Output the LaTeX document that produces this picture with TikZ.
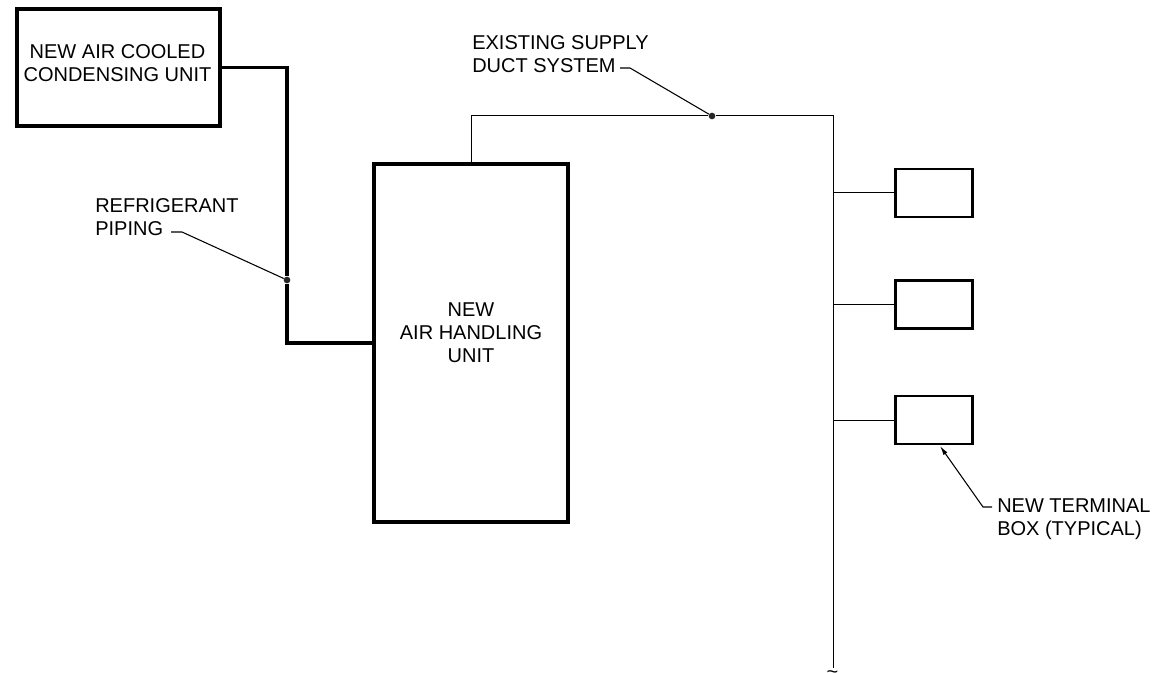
\documentclass[tikz,border=0pt]{standalone}
\usepackage{fontspec}
\setmainfont{Liberation Sans}
\usepackage{tikz}
\usetikzlibrary{arrows.meta}

\tikzset{
  unitbox/.style={draw,line width=3pt,inner sep=0pt},
  tbox/.style={draw,line width=1.9pt,minimum width=58pt,minimum height=36pt,inner sep=0pt},
  pipe/.style={line width=2.3pt},
  duct/.style={line width=0.75pt},
  leader/.style={line width=0.8pt},
  joint/.style={circle,fill=black!85,inner sep=0pt,minimum size=5pt},
  txt/.style={align=left,font=\fontsize{15}{17.3}\selectfont,inner sep=0pt},
  ctxt/.style={txt,align=center}
}

\begin{document}
\begin{tikzpicture}[x=0.75pt,y=-0.75pt]
  \useasboundingbox (0,0) rectangle (1156,673);
  \node[unitbox,minimum width=152pt,minimum height=88pt] (cond) at (118.5,67.5) {};
  \node[unitbox,minimum width=145.5pt,minimum height=268.5pt] (ahu) at (471,343) {};
  \node[tbox] (tbox1) at (934,193) {};
  \node[tbox] (tbox2) at (934,304.5) {};
  \node[tbox] (tbox3) at (934,420) {};
  \node[ctxt] (condtxt) at (117.5,63) {NEW AIR COOLED\\CONDENSING UNIT};
  \node[ctxt] (ahutxt) at (471,332.5) {NEW\\AIR HANDLING\\UNIT};
  \node[txt,anchor=west] (pipetxt) at (95,217) {REFRIGERANT\\PIPING};
  \node[txt,anchor=west] (ducttxt) at (472,54) {EXISTING SUPPLY\\DUCT SYSTEM};
  \node[txt,anchor=west] (tboxtxt) at (997,519) {NEW TERMINAL\\BOX (TYPICAL)};

  \node[joint] (pipedot) at (287,280) {};
  \node[joint] (ductdot) at (712,116) {};
  \coordinate (ductend) at (833,668);
  \coordinate (tap1) at (833,193);
  \coordinate (tap2) at (833,304.5);
  \coordinate (tap3) at (833,420);
  \node[font=\fontsize{15}{17.3}\selectfont,inner sep=0pt] (tilde) at (832.5,675) {\textasciitilde};

  \draw[pipe] (cond.east) -| (pipedot) |- (ahu.west);
  \draw[duct] (ahu.north) |- (ductdot) -| (ductend);
  \draw[duct] (tap1) -- (tbox1.west);
  \draw[duct] (tap2) -- (tbox2.west);
  \draw[duct] (tap3) -- (tbox3.west);

  \coordinate (pipea) at (171,232);
  \coordinate (pipeb) at (182,232);
  \draw[leader] (pipea) -- (pipeb) -- (pipedot);
  \coordinate (ducta) at (620,68);
  \coordinate (ductb) at (630,68);
  \draw[leader] (ducta) -- (ductb) -- (ductdot);
  \coordinate (tboxa) at (992,507);
  \coordinate (tboxb) at (983,507);
  \coordinate (tboxc) at (940,446);
  \draw[leader,-{Latex[length=7pt,width=3.5pt]}] (tboxa) -- (tboxb) -- (tboxc);
\end{tikzpicture}
\end{document}
